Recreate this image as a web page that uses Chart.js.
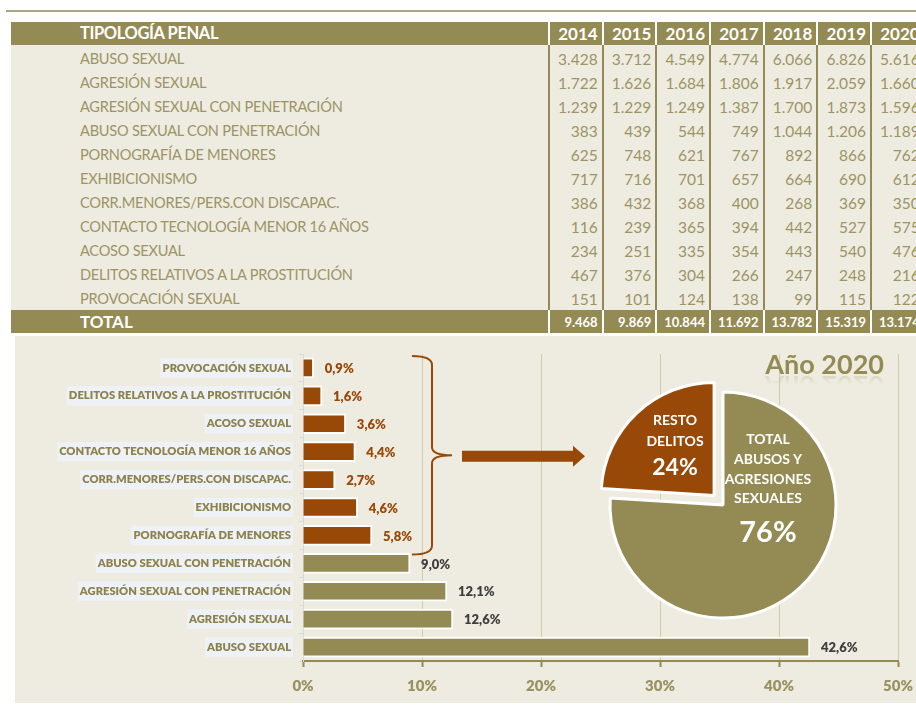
<!DOCTYPE html>
<html><head><meta charset="utf-8">
<script src="https://cdn.jsdelivr.net/npm/chart.js@4.4.0/dist/chart.umd.min.js"></script>
<style>
html,body{margin:0;padding:0;background:#fff;width:916px;height:706px;overflow:hidden;position:relative;font-family:Lato,"Open Sans",sans-serif;}
#topline{position:absolute;left:6px;top:10px;width:910px;height:2px;background:#ABA682;}
#tbl{position:absolute;left:11px;top:22px;width:905px;height:311px;background:#EEECE1;overflow:hidden;}
.abs{position:absolute;white-space:nowrap;}
#chartbg{position:absolute;left:15px;top:336px;width:901px;height:367px;background:#EEECE1;}
#bar{position:absolute;left:15px;top:336px;}
#pie{position:absolute;left:583px;top:365px;}
.pl{position:absolute;color:#fff;font-weight:bold;text-align:center;transform:translate(-50%,-50%);white-space:nowrap;font-family:Lato,sans-serif;}
#anio{position:absolute;right:32px;top:347px;font-size:27px;font-weight:bold;color:#948A54;font-family:Lato,sans-serif;-webkit-box-reflect:below -10px linear-gradient(transparent 55%, rgba(255,255,255,0.35));}
</style>
</head><body>
<div id="topline"></div>
<div id="tbl"></div>
<div id="chartbg"></div>
<canvas id="bar" width="901" height="367"></canvas>
<canvas id="pie" width="280" height="280"></canvas>
<div id="anio">Año 2020</div>
<div id="pielabels"></div>
<script>
// ---- DATA ----
const categories = ['ABUSO SEXUAL','AGRESIÓN SEXUAL','AGRESIÓN SEXUAL CON PENETRACIÓN','ABUSO SEXUAL CON PENETRACIÓN','PORNOGRAFÍA DE MENORES','EXHIBICIONISMO','CORR.MENORES/PERS.CON DISCAPAC.','CONTACTO TECNOLOGÍA MENOR 16 AÑOS','ACOSO SEXUAL','DELITOS RELATIVOS A LA PROSTITUCIÓN','PROVOCACIÓN SEXUAL'];
const years = ['2014','2015','2016','2017','2018','2019','2020'];
const v2014 = [3428,1722,1239,383,625,717,386,116,234,467,151];
const v2015 = [3712,1626,1229,439,748,716,432,239,251,376,101];
const v2016 = [4549,1684,1249,544,621,701,368,365,335,304,124];
const v2017 = [4774,1806,1387,749,767,657,400,394,354,266,138];
const v2018 = [6066,1917,1700,1044,892,664,268,442,443,247,99];
const v2019 = [6826,2059,1873,1206,866,690,369,527,540,248,115];
const v2020 = [5616,1660,1596,1189,762,612,350,575,476,216,122];
const totals = [9468,9869,10844,11692,13782,15319,13174];
const pct2020 = [42.6,12.6,12.1,9.0,5.8,4.6,2.7,4.4,3.6,1.6,0.9];
const mainGroup = [true,true,true,true,false,false,false,false,false,false,false];
const pieLabels = ['TOTAL ABUSOS Y AGRESIONES SEXUALES','RESTO DELITOS'];
const pieValues = [76,24];

const OLIVE = '#948A54', RUST = '#984807', TXT = '#9C9464';
const fmt = n => String(n).replace(/\B(?=(\d{3})+(?!\d))/g, '.');

// ---- TABLE ----
const tbl = document.getElementById('tbl');
const OX = 11, OY = 22;
const cols = [v2014,v2015,v2016,v2017,v2018,v2019,v2020];
const sepX = i => 548 + 53.67 * i;
function add(html, css) { const d = document.createElement('div'); d.className = 'abs'; d.innerHTML = html; Object.assign(d.style, css); tbl.appendChild(d); return d; }
// header
add('', {left:'0px', top:'0px', width:'960px', height:'23px', background:OLIVE});
add('TIPOLOGÍA PENAL', {left:(80-OX)+'px', top:'0px', height:'23px', lineHeight:'23px', color:'#fff', fontWeight:'bold', fontSize:'16.5px', letterSpacing:'-0.4px'});
// total row
add('', {left:'0px', top:(310-OY)+'px', width:'960px', height:'23px', background:OLIVE});
add('TOTAL', {left:(80-OX)+'px', top:(310-OY)+'px', height:'23px', lineHeight:'23px', color:'#fff', fontWeight:'bold', fontSize:'17px'});
// separators
for (let i = 0; i < 8; i++) {
  const x = sepX(i) - OX;
  add('', {left:x+'px', top:'0px', width:'2px', height:'23px', background:'#fff'});
  add('', {left:x+'px', top:'23px', width:'2px', height:(310-46+1)+'px', background:OLIVE});
  add('', {left:x+'px', top:(310-OY)+'px', width:'2px', height:'23px', background:'#fff'});
}
// year headers & values
const ROW0 = 47;
years.forEach((y, i) => {
  const right = sepX(i+1) - OX - 4;
  const w = 50;
  add(y, {left:(right-w)+'px', width:w+'px', textAlign:'right', top:'0px', height:'23px', lineHeight:'23px', color:'#fff', fontWeight:'bold', fontSize:'17px'});
  cols[i].forEach((v, r) => {
    add(fmt(v), {left:(right-w)+'px', width:w+'px', textAlign:'right', top:(ROW0-OY+24*r)+'px', height:'24px', lineHeight:'24px', color:TXT, fontSize:'15.5px'});
  });
  add(fmt(totals[i]), {left:(right-w)+'px', width:w+'px', textAlign:'right', top:(310-OY)+'px', height:'24px', lineHeight:'24px', color:'#fff', fontWeight:'bold', fontSize:'13px'});
});
categories.forEach((c, r) => {
  add(c, {left:(80-OX)+'px', top:(ROW0-OY+24*r)+'px', height:'24px', lineHeight:'24px', color:TXT, fontSize:'14.6px', letterSpacing:'-0.25px'});
});

// ---- BAR CHART ----
const barLabels = categories.slice().reverse();
const barValues = pct2020.slice().reverse();
const barMain = mainGroup.slice().reverse();

const valueLabels = {
  id: 'valueLabels',
  afterDatasetsDraw(chart) {
    const ctx = chart.ctx;
    const meta = chart.getDatasetMeta(0);
    ctx.save();
    ctx.font = '800 13px Lato, sans-serif';
    ctx.textAlign = 'left';
    ctx.textBaseline = 'middle';
    meta.data.forEach((el, i) => {
      ctx.fillStyle = barMain[i] ? '#3F3F3F' : RUST;
      ctx.fillText(barValues[i].toFixed(1).replace('.', ',') + '%', el.x + 11, el.y + 1);
    });
    ctx.restore();
  }
};
const bracket = {
  id: 'bracket',
  afterDraw(chart) {
    const ctx = chart.ctx, ys = chart.scales.y, xs = chart.scales.x;
    let first = -1, last = -1;
    barMain.forEach((m, i) => { if (!m) { if (first < 0) first = i; last = i; } });
    const top = ys.getPixelForValue(first) - 12;
    const bottom = ys.getPixelForValue(last) + 19;
    const mid = (top + bottom) / 2;
    const xl = xs.getPixelForValue(10) + 10;
    ctx.save();
    ctx.strokeStyle = RUST; ctx.lineWidth = 2;
    ctx.beginPath();
    ctx.moveTo(xl - 20, top);
    ctx.quadraticCurveTo(xl, top, xl, top + 9);
    ctx.lineTo(xl, mid - 8);
    ctx.quadraticCurveTo(xl, mid, xl + 20, mid);
    ctx.quadraticCurveTo(xl, mid, xl, mid + 8);
    ctx.lineTo(xl, bottom - 9);
    ctx.quadraticCurveTo(xl, bottom, xl - 20, bottom);
    ctx.stroke();
    // arrow
    const ax0 = xl + 30, ax1 = xl + 141, ax2 = xl + 153, ay = mid + 1;
    ctx.fillStyle = RUST;
    ctx.beginPath();
    ctx.moveTo(ax0, ay - 5.5);
    ctx.lineTo(ax1, ay - 5.5);
    ctx.lineTo(ax1, ay - 10.5);
    ctx.lineTo(ax2, ay);
    ctx.lineTo(ax1, ay + 10.5);
    ctx.lineTo(ax1, ay + 5.5);
    ctx.lineTo(ax0, ay + 5.5);
    ctx.closePath();
    ctx.fill();
    ctx.restore();
  }
};

new Chart(document.getElementById('bar'), {
  type: 'bar',
  data: { labels: barLabels, datasets: [{ data: barValues,
    backgroundColor: barMain.map(m => m ? OLIVE : RUST),
    borderColor: '#fff', borderWidth: 2, borderSkipped: 'start', barThickness: 20 }] },
  options: {
    indexAxis: 'y', responsive: false, animation: false, devicePixelRatio: 1,
    layout: { padding: { top: 18, right: 18, left: 0, bottom: 0 } },
    plugins: { legend: { display: false }, tooltip: { enabled: false } },
    scales: {
      x: { min: 0, max: 50,
        ticks: { stepSize: 10, callback: v => v + '%', color: '#9A9262', font: { family: 'Lato', size: 15, weight: '800' }, padding: 10 },
        grid: { color: '#D2CBAD', tickColor: OLIVE, tickLength: 6, tickWidth: 2 },
        border: { color: OLIVE, width: 2 },
        afterFit(s) { s.height = 42; s.paddingLeft = 0; s.paddingRight = 0; } },
      y: {
        ticks: { color: '#8C824C', font: { family: 'Lato', size: 11.2, weight: '800' }, padding: 8,
          showLabelBackdrop: true, backdropColor: '#EEF2F6', backdropPadding: { top: 3, bottom: 3, left: 2, right: 2 } },
        grid: { drawOnChartArea: false, color: '#D9D9D9', tickLength: 4 },
        border: { color: '#D9D9D9', width: 1 },
        afterFit(s) { s.width = 288; } }
    }
  },
  plugins: [valueLabels, bracket]
});

// ---- PIE ----
new Chart(document.getElementById('pie'), {
  type: 'pie',
  data: { labels: pieLabels, datasets: [{ data: pieValues, backgroundColor: [OLIVE, RUST], borderColor: '#fff', borderWidth: 3, offset: [0, 52] }] },
  options: { responsive: false, animation: false, devicePixelRatio: 1, radius: 113,
    plugins: { legend: { display: false }, tooltip: { enabled: false } } }
});

// pie labels
const pl = document.getElementById('pielabels');
function lab(t, x, y, size) { const d = document.createElement('div'); d.className = 'pl'; d.textContent = t; d.style.left = x + 'px'; d.style.top = y + 'px'; d.style.fontSize = size + 'px'; pl.appendChild(d); }
const resto = pieLabels[1].split(' ');
lab(resto[0], 675, 419, 14); lab(resto[1], 675, 440, 14); lab(pieValues[1] + '%', 675, 466, 23);
lab('TOTAL', 768, 438, 14); lab('ABUSOS Y', 768, 458, 14); lab('AGRESIONES', 768, 478, 14); lab('SEXUALES', 768, 497, 14);
lab(pieValues[0] + '%', 768, 530, 29);
</script>
</body></html>
